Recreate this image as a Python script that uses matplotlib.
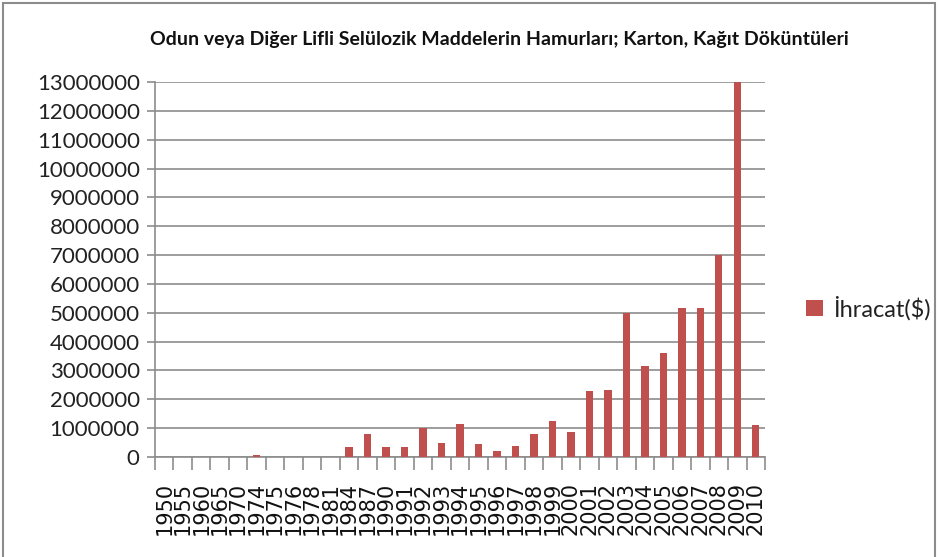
import matplotlib
matplotlib.use("Agg")
import matplotlib.pyplot as plt
from matplotlib.patches import Rectangle
import numpy as np

years = ["1950", "1955", "1960", "1965", "1970", "1974", "1975", "1976", "1978", "1981",
         "1984", "1987", "1990", "1991", "1992", "1993", "1994", "1995", "1996", "1997",
         "1998", "1999", "2000", "2001", "2002", "2003", "2004", "2005", "2006", "2007",
         "2008", "2009", "2010"]
exports = [0, 0, 0, 0, 0, 60000, 0, 0, 0, 0,
           350000, 790000, 350000, 350000, 1000000, 470000, 1130000, 440000, 220000, 390000,
           790000, 1250000, 870000, 2280000, 2320000, 5000000, 3150000, 3600000, 5150000, 5150000,
           7000000, 13000000, 1120000]
series_name = "İhracat($)"
title = "Odun veya Diğer Lifli Selülozik Maddelerin Hamurları; Karton, Kağıt Döküntüleri"
yticks = list(range(0, 13000001, 1000000))

W, H = 938, 557
fig = plt.figure(figsize=(W / 100, H / 100), dpi=100)
fig.patch.set_facecolor("white")
fig.patches.append(Rectangle((3 / W, -0.01), (W - 6) / W, 1 - 3 / H + 0.01,
                             transform=fig.transFigure, fill=False,
                             edgecolor="#8c8c8c", linewidth=1.5))

ax = fig.add_axes([155 / W, (H - 457) / H, (765 - 155) / W, (457 - 82) / H])
x = np.arange(len(years))
ax.bar(x, exports, width=0.4, color="#C0504D", label=series_name, zorder=3)

ax.set_xlim(-0.5, len(years) - 0.5)
ax.set_ylim(0, 13000000)
ax.set_yticks(yticks)
ax.set_yticklabels([str(v) for v in yticks], fontfamily="Lato", fontsize=16, color="#222222")
ax.grid(axis="y", color="#8c8c8c", linewidth=1.2, zorder=0)
ax.set_axisbelow(True)

ax.set_xticks(x)
ax.set_xticklabels(years, rotation=90, fontfamily="DejaVu Sans", fontsize=15, color="#111111")
ax.set_xticks(np.arange(-0.5, len(years), 1.0), minor=True)
ax.tick_params(axis="x", which="major", length=0, pad=18)
ax.tick_params(axis="x", which="minor", length=9, color="#8c8c8c", width=1.2)
ax.tick_params(axis="y", which="major", length=6, color="#8c8c8c", width=1.2, pad=5)

for s in ["top", "right"]:
    ax.spines[s].set_visible(False)
for s in ["left", "bottom"]:
    ax.spines[s].set_color("#8c8c8c")
    ax.spines[s].set_linewidth(1.2)

fig.text(499 / W, 1 - 40 / H, title, ha="center", va="center",
         fontfamily="Lato", fontweight="bold", fontsize=14, color="#111111")

leg = fig.legend(loc="center left", bbox_to_anchor=(806 / W, 1 - 308 / H),
                 frameon=False, prop={"family": "Lato", "size": 17},
                 handlelength=0.7, handleheight=0.7, handletextpad=0.45,
                 borderaxespad=0, borderpad=0)
for t in leg.get_texts():
    t.set_color("#222222")

fig.savefig("out.png", dpi=100)
